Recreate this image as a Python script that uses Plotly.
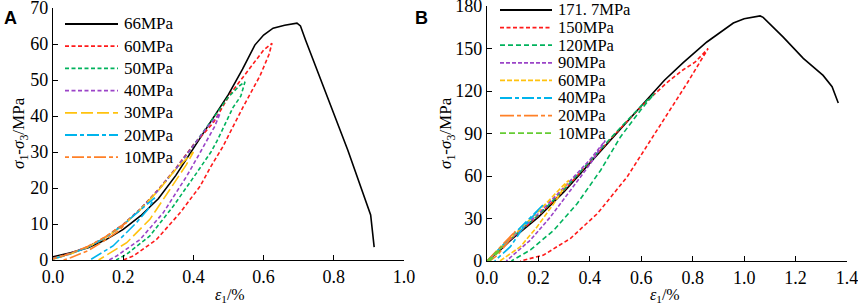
import plotly.graph_objects as go

# ---------------- Panel A data ----------------
a_labels = ["66MPa", "60MPa", "50MPa", "40MPa", "30MPa", "20MPa", "10MPa"]
a_xticks = [0.0, 0.2, 0.4, 0.6, 0.8, 1.0]
a_yticks = [0, 10, 20, 30, 40, 50, 60, 70]

a66_x = [0, 0.05, 0.1, 0.15, 0.2, 0.25, 0.3, 0.35, 0.4, 0.45, 0.5, 0.54, 0.575, 0.6, 0.627, 0.66, 0.695, 0.705, 0.72, 0.84, 0.905, 0.915]
a66_y = [0.9, 2.0, 3.4, 5.6, 8.5, 12.3, 17.0, 23.5, 31.0, 38.5, 46.0, 53.0, 59.7, 62.5, 64.4, 65.2, 65.8, 65.0, 61.0, 30.5, 12.5, 3.6]

a60_x = [0, 0.05, 0.1, 0.15, 0.2, 0.25, 0.3, 0.35, 0.4, 0.456, 0.504, 0.561, 0.6, 0.624, 0.615, 0.59, 0.541, 0.484, 0.45, 0.419, 0.362, 0.295, 0.229, 0.2]
a60_y = [0.5, 1.9, 3.7, 6.4, 9.9, 14.3, 19.6, 25.5, 32.0, 38.0, 46.0, 53.5, 58.3, 60.2, 57.0, 51.2, 42.4, 31.5, 26.0, 20.5, 13.1, 5.7, 1.1, 0]

a50_x = [0, 0.05, 0.1, 0.15, 0.2, 0.25, 0.3, 0.35, 0.4, 0.45, 0.5, 0.53, 0.547, 0.535, 0.513, 0.467, 0.45, 0.41, 0.343, 0.276, 0.21, 0.18]
a50_y = [0.4, 1.8, 3.6, 6.3, 9.8, 14.2, 19.4, 25.3, 31.8, 38.5, 45.3, 48.3, 49.5, 45.5, 42.4, 33.0, 30.0, 24.3, 15.0, 6.7, 1.6, 0]

a40_x = [0, 0.05, 0.1, 0.15, 0.2, 0.25, 0.3, 0.35, 0.4, 0.44, 0.476, 0.46, 0.42, 0.381, 0.314, 0.248, 0.181, 0.16]
a40_y = [0.4, 1.8, 3.6, 6.3, 9.8, 14.2, 19.4, 25.3, 31.8, 37.0, 40.7, 37.0, 30.0, 23.3, 13.1, 5.7, 1.1, 0]

a30_x = [0, 0.05, 0.1, 0.15, 0.2, 0.25, 0.3, 0.35, 0.4, 0.38, 0.333, 0.276, 0.21, 0.143, 0.13]
a30_y = [0.3, 1.7, 3.6, 6.2, 9.7, 14.1, 19.3, 25.2, 30.0, 26.5, 19.6, 11.3, 4.8, 0.6, 0]

a20_x = [0, 0.05, 0.1, 0.15, 0.2, 0.25, 0.29, 0.27, 0.238, 0.171, 0.114, 0.105]
a20_y = [0.3, 1.7, 3.6, 6.3, 9.8, 14.0, 17.3, 14.0, 10.4, 3.9, 0.6, 0]

a10_x = [0, 0.05, 0.1, 0.15, 0.21, 0.19, 0.15, 0.1, 0.05, 0.03]
a10_y = [0.3, 1.8, 3.8, 6.5, 10.5, 8.3, 5.6, 2.6, 0.6, 0]

# ---------------- Panel B data ----------------
b_labels = ["171. 7MPa", "150MPa", "120MPa", "90MPa", "60MPa", "40MPa", "20MPa", "10MPa"]
b_xticks = [0.0, 0.2, 0.4, 0.6, 0.8, 1.0, 1.2, 1.4]
b_yticks = [0, 30, 60, 90, 120, 150, 180]

b171_x = [0, 0.05, 0.1, 0.2, 0.3, 0.4, 0.5, 0.6, 0.69, 0.763, 0.855, 0.958, 1.0, 1.062, 1.074, 1.152, 1.23, 1.307, 1.342, 1.366]
b171_y = [0, 7.5, 16.0, 31.0, 49.0, 69.0, 89.0, 109.0, 127.6, 140.0, 154.6, 168.0, 171.0, 173.0, 172.0, 158.0, 143.0, 131.0, 123.0, 111.5]

b150_x = [0, 0.1, 0.2, 0.3, 0.4, 0.5, 0.6, 0.7, 0.763, 0.81, 0.86, 0.83, 0.78, 0.66, 0.545, 0.43, 0.325, 0.22, 0.13]
b150_y = [0, 16.5, 32.0, 50.0, 70.0, 90.0, 109.0, 126.0, 135.0, 140.5, 150.0, 141.0, 126.0, 92.0, 59.4, 33.6, 16.0, 4.2, 0]

b120_x = [0, 0.1, 0.2, 0.3, 0.4, 0.5, 0.6, 0.65, 0.597, 0.519, 0.442, 0.351, 0.26, 0.169, 0.095]
b120_y = [0, 16.8, 32.5, 50.5, 70.5, 90.5, 109.5, 118.0, 106.4, 87.6, 64.1, 40.6, 21.8, 7.8, 0]

b90_x = [0, 0.1, 0.2, 0.3, 0.4, 0.46, 0.403, 0.325, 0.247, 0.169, 0.104, 0.075]
b90_y = [0, 17.0, 33.5, 52.0, 71.5, 85.0, 68.9, 50.0, 31.2, 14.8, 4.2, 0]

b60_x = [0, 0.1, 0.2, 0.3, 0.318, 0.26, 0.195, 0.13, 0.05]
b60_y = [0, 17.5, 35.0, 54.0, 57.0, 40.6, 24.2, 10.1, 0]

b40_x = [0, 0.1, 0.2, 0.22, 0.18, 0.143, 0.091, 0.03]
b40_y = [0, 18.5, 37.0, 40.0, 32.0, 24.2, 10.1, 0]

b20_x = [0, 0.05, 0.11, 0.08, 0.04, 0.01]
b20_y = [0, 9.5, 21.0, 13.0, 4.0, 0]

b10_x = [0, 0.03, 0.06, 0.04, 0.01]
b10_y = [0, 5.0, 10.5, 5.5, 0]

a_series = [(a66_x, a66_y), (a60_x, a60_y), (a50_x, a50_y), (a40_x, a40_y),
            (a30_x, a30_y), (a20_x, a20_y), (a10_x, a10_y)]
b_series = [(b171_x, b171_y), (b150_x, b150_y), (b120_x, b120_y), (b90_x, b90_y),
            (b60_x, b60_y), (b40_x, b40_y), (b20_x, b20_y), (b10_x, b10_y)]

# ---------------- styles ----------------
a_colors = ["#000000", "#FF1A1A", "#00B25C", "#9B44C8", "#FFC20E", "#00B4EC", "#FF8027"]
a_dashes = ["solid", "4px,2.5px", "4px,2.5px", "4px,2.5px", "12px,4px", "12px,3px,4px,3px", "4px,3px,12px,3px"]
b_colors = ["#000000", "#FF1A1A", "#00B25C", "#9B44C8", "#FFC20E", "#00B4EC", "#FF8027", "#66CC33"]
b_dashes = ["solid", "4px,2.5px", "5px,3px", "4px,2px", "5px,2px", "12px,3px,4px,3px", "14px,3px,4px,3px", "6px,3px"]

W, H = 858, 306
FONT = "Liberation Serif"

fig = go.Figure()
for (xs, ys), c, d, name in zip(a_series, a_colors, a_dashes, a_labels):
    fig.add_trace(go.Scatter(x=xs, y=ys, mode="lines", name=name, showlegend=False,
                             line=dict(color=c, dash=d, width=1.6), xaxis="x", yaxis="y"))
for (xs, ys), c, d, name in zip(b_series, b_colors, b_dashes, b_labels):
    fig.add_trace(go.Scatter(x=xs, y=ys, mode="lines", name=name, showlegend=False,
                             line=dict(color=c, dash=d, width=1.6), xaxis="x2", yaxis="y2"))

def px(x):
    return x / W

def py(y):
    return 1 - y / H

axis_common = dict(showgrid=False, zeroline=False, showline=True, linecolor="black", linewidth=1.3,
                   ticks="inside", ticklen=5, tickwidth=1.3, tickcolor="black", automargin=False,
                   ticklabeloverflow="allow",
                   tickfont=dict(family=FONT, size=18, color="black"))

fig.update_layout(
    template="none",
    width=W, height=H, margin=dict(l=0, r=0, t=0, b=0, pad=0),
    font=dict(family=FONT, size=18, color="black"),
    paper_bgcolor="white", plot_bgcolor="white", showlegend=False,
    xaxis=dict(domain=[px(53), px(404)], range=[0, 1.0], tickvals=a_xticks, tickformat=".1f",
               anchor="y", **axis_common),
    yaxis=dict(domain=[py(260), py(8)], range=[0, 70], tickvals=a_yticks, anchor="x", **axis_common),
    xaxis2=dict(domain=[px(487), px(847)], range=[0, 1.4], tickvals=b_xticks, tickformat=".1f",
                anchor="y2", **axis_common),
    yaxis2=dict(domain=[py(261), py(6)], range=[0, 180], tickvals=b_yticks, anchor="x2", **axis_common),
)

annotations = []
shapes = []

# manual legends
def add_legend(labels, colors, dashes, x0, x1, xt, y0, step, fsize):
    for i, (lab, c, d) in enumerate(zip(labels, colors, dashes)):
        yy = y0 + step * i
        shapes.append(dict(type="line", xref="paper", yref="paper",
                           x0=px(x0), x1=px(x1), y0=py(yy), y1=py(yy),
                           line=dict(color=c, dash=d, width=1.8)))
        annotations.append(dict(text=lab, xref="paper", yref="paper", x=px(xt), y=py(yy),
                                xanchor="left", yanchor="middle", showarrow=False,
                                font=dict(family=FONT, size=fsize, color="black")))

add_legend(a_labels, a_colors, a_dashes, 65, 118, 122, 24, 22.2, 17)
add_legend(b_labels, b_colors, b_dashes, 500, 552, 556, 10, 17.6, 16.5)

# axis titles
ytitle = "<i>σ</i><sub>1</sub>-<i>σ</i><sub>3</sub>/MPa"
xtitle = "<i>ε</i><sub>1</sub>/%"
for xc in (20, 447):
    annotations.append(dict(text=ytitle, xref="paper", yref="paper", x=px(xc), y=py(133),
                            textangle=-90, showarrow=False, xanchor="center", yanchor="middle",
                            font=dict(family=FONT, size=17, color="black")))
for xc in (230, 665):
    annotations.append(dict(text=xtitle, xref="paper", yref="paper", x=px(xc), y=py(295),
                            showarrow=False, xanchor="center", yanchor="middle",
                            font=dict(family=FONT, size=16, color="black")))

# panel letters
annotations.append(dict(text="<b>A</b>", xref="paper", yref="paper", x=px(10), y=py(17.5),
                        showarrow=False, xanchor="center", yanchor="middle",
                        font=dict(family="Liberation Sans", size=18, color="black")))
annotations.append(dict(text="<b>B</b>", xref="paper", yref="paper", x=px(421), y=py(18),
                        showarrow=False, xanchor="center", yanchor="middle",
                        font=dict(family="Liberation Sans", size=18, color="black")))

fig.update_layout(annotations=annotations, shapes=shapes)
fig.write_html("out.html", config={"displayModeBar": False},
               post_script="document.body.style.margin='0px';document.body.style.padding='0px';")
